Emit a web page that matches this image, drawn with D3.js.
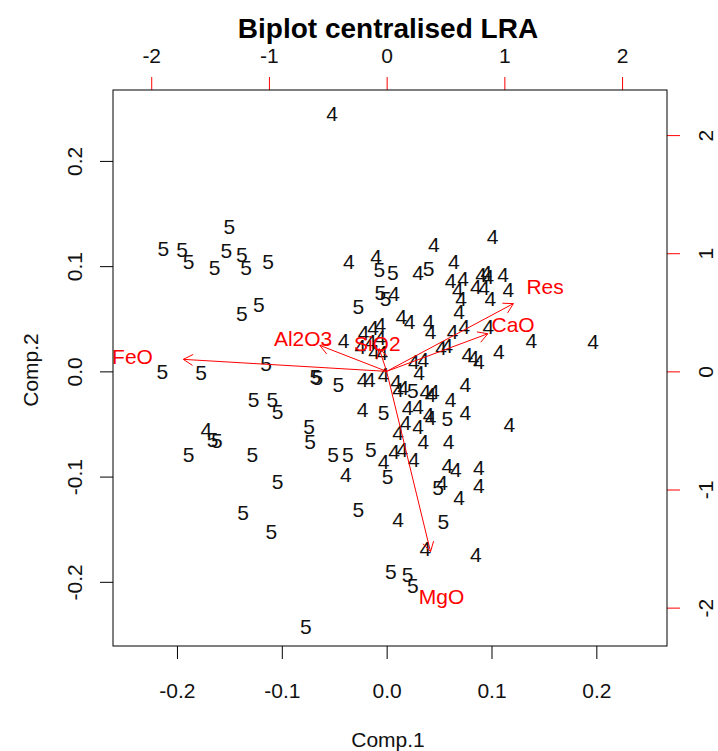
<!DOCTYPE html>
<html><head><meta charset="utf-8">
<script src="https://cdn.jsdelivr.net/npm/d3@7"></script>
<style>body{margin:0;background:#fff}</style>
</head><body><svg id="c" width="718" height="751"></svg>
<script>
// ---- data ----
const title = "Biplot centralised LRA";
const xLabel = "Comp.1", yLabel = "Comp.2";
const primaryTicks = [-0.2, -0.1, 0.0, 0.1, 0.2];
const secondaryTicks = [-2, -1, 0, 1, 2];

const comp1_4 = [-0.052,0.101,0.045,-0.036,-0.010,0.030,0.064,0.061,0.073,0.068,0.071,0.069,0.090,0.095,0.097,0.111,0.085,0.093,0.116,0.099,
 0.007,0.014,0.022,0.040,0.042,0.063,0.074,0.097,-0.041,-0.022,-0.013,-0.006,-0.006,-0.015,-0.025,-0.004,-0.012,0.052,0.058,0.138,
 0.197,0.107,0.077,0.083,0.088,0.026,0.035,0.031,-0.023,-0.016,-0.003,0.009,0.011,0.016,0.037,0.042,0.045,0.061,0.075,-0.023,
 0.020,0.030,0.040,0.075,0.042,0.117,0.018,0.030,0.011,0.035,0.059,0.007,0.015,0.026,-0.003,-0.039,0.058,0.066,0.088,0.053,
 0.088,0.069,0.011,0.037,0.085,-0.172];
const comp2_4 = [0.245,0.128,0.121,0.104,0.109,0.094,0.104,0.086,0.088,0.078,0.069,0.057,0.092,0.094,0.090,0.092,0.081,0.080,0.078,0.069,
 0.074,0.052,0.047,0.047,0.038,0.038,0.043,0.043,0.029,0.037,0.042,0.045,0.032,0.028,0.024,0.018,0.019,0.023,0.025,0.029,
 0.028,0.019,0.016,0.013,0.009,0.009,0.011,-0.001,-0.008,-0.008,-0.003,-0.010,-0.017,-0.015,-0.019,-0.022,-0.019,-0.027,-0.012,-0.036,
 -0.034,-0.033,-0.041,-0.039,-0.044,-0.050,-0.049,-0.052,-0.058,-0.067,-0.067,-0.076,-0.074,-0.084,-0.086,-0.098,-0.089,-0.093,-0.091,-0.106,
 -0.108,-0.120,-0.141,-0.168,-0.174,-0.055];

const comp1_5 = [-0.150,-0.213,-0.195,-0.189,-0.153,-0.138,-0.164,-0.134,-0.113,-0.122,-0.138,-0.214,-0.177,-0.115,-0.068,-0.066,-0.127,-0.109,-0.104,-0.166,
 -0.162,-0.189,-0.128,-0.074,-0.073,-0.051,-0.037,-0.104,-0.137,-0.110,-0.077,-0.046,-0.007,0.006,0.040,-0.006,-0.001,-0.027,0.025,-0.003,
 -0.015,0.001,-0.027,0.058,0.049,0.054,0.004,0.020,0.025];
const comp2_5 = [0.138,0.117,0.116,0.104,0.115,0.111,0.099,0.099,0.104,0.064,0.055,0.000,-0.001,0.008,-0.005,-0.006,-0.027,-0.027,-0.038,-0.065,
 -0.066,-0.079,-0.079,-0.052,-0.067,-0.079,-0.079,-0.105,-0.134,-0.152,-0.242,-0.012,0.097,0.094,0.098,0.075,0.069,0.062,-0.018,-0.039,
 -0.074,-0.100,-0.131,-0.045,-0.110,-0.143,-0.190,-0.193,-0.203];

const varNames = ["FeO","Al2O3","SiO2","MgO","CaO","Res"];
const load1 = [-2.159,-0.710,-0.080,0.466,1.074,1.346];
const load2 = [0.127,0.275,0.240,-1.908,0.398,0.717];

// ---- layout ----
const L = 113, R = 667, T = 90, B = 646;
const FONT = "'Liberation Sans', Arial, sans-serif";
const FS = 21;
const dom = [-0.261, 0.2674];
const ratio = 8.907;
const x = d3.scaleLinear().domain(dom).range([L, R]);
const y = d3.scaleLinear().domain(dom).range([B, T]);
const x2 = d3.scaleLinear().domain(dom.map(d => d * ratio)).range([L, R]);
const y2 = d3.scaleLinear().domain(dom.map(d => d * ratio)).range([B, T]);

const svg = d3.select("#c").style("font-family", FONT);
const fmt1 = d => d.toFixed(1);
const fmt0 = d => String(d);

function styleAxis(g, col) {
  g.select(".domain").remove();
  g.selectAll(".tick line").attr("stroke", col).attr("stroke-width", 1);
  g.selectAll(".tick text").attr("fill", "#111").style("font-size", FS + "px").style("font-family", FONT);
}

// bottom
svg.append("g").attr("transform", `translate(0,${B})`)
  .call(d3.axisBottom(x).tickValues(primaryTicks).tickSize(13).tickFormat(fmt1))
  .call(g => styleAxis(g, "#000"))
  .call(g => g.selectAll(".tick text").attr("y", 44).attr("dy", "0.36em"));
// left
svg.append("g").attr("transform", `translate(${L},0)`)
  .call(d3.axisLeft(y).tickValues(primaryTicks).tickSize(13).tickFormat(fmt1))
  .call(g => styleAxis(g, "#000"))
  .call(g => g.selectAll(".tick text").attr("x", 0).attr("y", -31).attr("dy", 0)
    .attr("text-anchor", "middle").attr("transform", "rotate(-90)"));
// top
svg.append("g").attr("transform", `translate(0,${T})`)
  .call(d3.axisTop(x2).tickValues(secondaryTicks).tickSize(13).tickFormat(fmt0))
  .call(g => styleAxis(g, "#ff0000"))
  .call(g => g.selectAll(".tick text").attr("y", -35).attr("dy", "0.36em"));
// right
svg.append("g").attr("transform", `translate(${R},0)`)
  .call(d3.axisRight(y2).tickValues(secondaryTicks).tickSize(13).tickFormat(fmt0))
  .call(g => styleAxis(g, "#ff0000"))
  .call(g => g.selectAll(".tick text").attr("x", 0).attr("y", 46).attr("dy", 0)
    .attr("text-anchor", "middle").attr("transform", "rotate(-90)"));

// box
svg.append("rect").attr("x", L).attr("y", T).attr("width", R - L).attr("height", B - T)
  .attr("fill", "none").attr("stroke", "#000").attr("stroke-width", 1);

// points
const pts = [];
comp1_4.forEach((v, i) => pts.push({ a: v, b: comp2_4[i], lab: "4" }));
comp1_5.forEach((v, i) => pts.push({ a: v, b: comp2_5[i], lab: "5" }));
svg.append("g").selectAll("text").data(pts).join("text")
  .attr("x", d => x(d.a)).attr("y", d => y(d.b)).attr("dy", "0.36em")
  .attr("text-anchor", "middle").style("font-size", FS + "px").attr("fill", "#111")
  .text(d => d.lab);

// arrows
const ag = svg.append("g");
const ox = x2(0), oy = y2(0);
const head = 11, ang = Math.PI / 6;
varNames.forEach((n, i) => {
  const tx = x2(load1[i] * 0.8), ty = y2(load2[i] * 0.8);
  ag.append("line").attr("x1", ox).attr("y1", oy).attr("x2", tx).attr("y2", ty)
    .attr("stroke", "#ff0000").attr("stroke-width", 1);
  const th = Math.atan2(ty - oy, tx - ox);
  [ang, -ang].forEach(a => {
    ag.append("line").attr("x1", tx).attr("y1", ty)
      .attr("x2", tx - head * Math.cos(th + a)).attr("y2", ty - head * Math.sin(th + a))
      .attr("stroke", "#ff0000").attr("stroke-width", 1);
  });
  ag.append("text").attr("x", x2(load1[i])).attr("y", y2(load2[i])).attr("dy", "0.36em")
    .attr("text-anchor", "middle").style("font-size", FS + "px").attr("fill", "#ff0000").text(n);
});

// titles
svg.append("text").attr("x", 388).attr("y", 28).attr("dy", "0.36em").attr("text-anchor", "middle")
  .style("font-size", "28px").style("font-weight", "bold").text(title);
svg.append("text").attr("x", 388).attr("y", 739).attr("dy", "0.36em").attr("text-anchor", "middle")
  .attr("fill", "#111").style("font-size", FS + "px").text(xLabel);
svg.append("text").attr("transform", "translate(30,370) rotate(-90)").attr("dy", "0.36em")
  .attr("fill", "#111").attr("text-anchor", "middle").style("font-size", FS + "px").text(yLabel);
</script></body></html>
